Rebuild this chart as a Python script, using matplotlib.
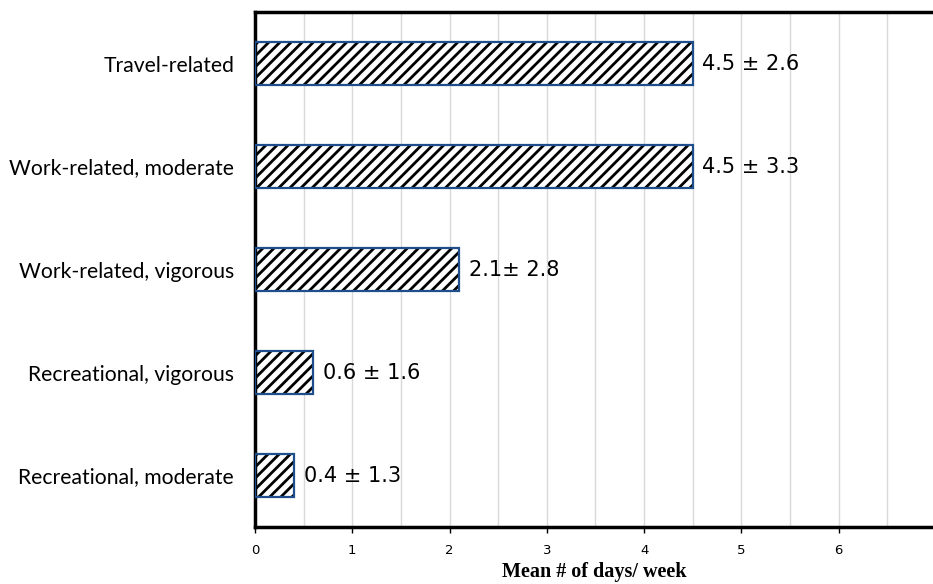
import matplotlib.pyplot as plt
from matplotlib.ticker import MultipleLocator

categories = ['Travel-related', 'Work-related, moderate', 'Work-related, vigorous',
              'Recreational, vigorous', 'Recreational, moderate']
means = [4.5, 4.5, 2.1, 0.6, 0.4]
labels = ['4.5 \u00b1 2.6', '4.5 \u00b1 3.3', '2.1\u00b1 2.8', '0.6 \u00b1 1.6', '0.4 \u00b1 1.3']

plt.rcParams['hatch.linewidth'] = 2.0

fig = plt.figure(figsize=(9.33, 5.84), dpi=100)
ax = fig.add_axes([0.2733, 0.0976, 0.7267, 0.8818])

pos = list(range(len(categories)))
ax.barh(pos, means, height=0.41, color='white', edgecolor='black', hatch='///', linewidth=0, zorder=2)
ax.barh(pos, means, height=0.41, fill=False, edgecolor='#1f4e8c', linewidth=1.6, zorder=3)

for p, m, lab in zip(pos, means, labels):
    ax.text(m + 0.1, p, lab, va='center', ha='left', fontsize=15, family='DejaVu Sans', zorder=4)

ax.set_xlim(0, 6.97)
ax.set_ylim(4.5, -0.5)
ax.set_yticks(pos)
ax.set_yticklabels(categories, fontsize=15.2, family='Lato')
ax.tick_params(axis='y', length=0, pad=15)

ax.xaxis.set_major_locator(MultipleLocator(1))
ax.xaxis.set_minor_locator(MultipleLocator(0.5))
ax.tick_params(axis='x', which='major', length=4, width=1, labelsize=9.5, colors='black', pad=8)
ax.tick_params(axis='x', which='minor', length=0)
ax.grid(axis='x', which='both', color='#d9d9d9', linewidth=1, zorder=0)
ax.set_axisbelow(True)

for s in ['left', 'bottom', 'top']:
    ax.spines[s].set_linewidth(2.5)
    ax.spines[s].set_color('black')
ax.spines['right'].set_visible(False)

ax.set_xlabel('Mean # of days/ week', fontsize=14.5, fontweight='bold', family='Liberation Serif', labelpad=4)

fig.savefig('out.png', dpi=100)
